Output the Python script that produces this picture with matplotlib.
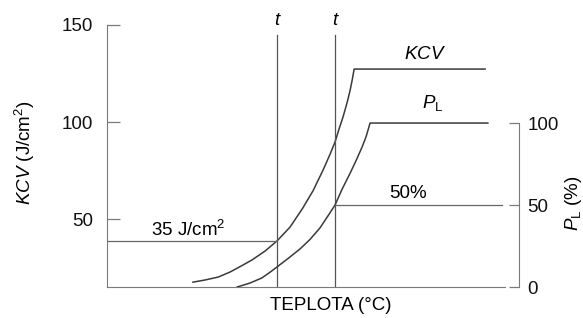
import matplotlib
matplotlib.use("Agg")
import matplotlib.pyplot as plt

plt.rcParams['font.family'] = ['Liberation Sans', 'DejaVu Sans']
plt.rcParams['mathtext.fontset'] = 'custom'
plt.rcParams['mathtext.rm'] = 'Liberation Sans'
plt.rcParams['mathtext.it'] = 'Liberation Sans:italic'

# curves (temperature in arbitrary units 0-100)
kcv_x = [21.6, 24.6, 27.9, 30.9, 33.7, 36.4, 39.7, 42.7, 46.0, 49.2, 51.8,
         54.3, 56.0, 57.3, 58.3, 59.3, 60.3, 61.1, 61.6, 62.1, 95.0]
kcv_y = [17.5, 18.6, 20.1, 22.7, 25.8, 28.9, 33.5, 38.7, 45.9, 55.7, 64.7,
         75.3, 83.2, 89.7, 96.4, 102.6, 109.8, 116.5, 121.6, 127.3, 127.3]

pl_x = [32.7, 35.9, 38.9, 40.9, 42.7, 45.5, 48.5, 51.0, 53.5, 55.5, 57.3,
        59.0, 61.1, 62.6, 64.1, 65.1, 66.1, 95.7]
pl_y = [0.0, 2.4, 5.5, 8.9, 12.2, 17.4, 23.2, 29.0, 36.0, 43.3, 50.0,
        59.3, 69.5, 77.2, 85.4, 91.7, 100.0, 100.0]

t_lines = [42.7, 57.3]
kcv_limit = 38.5
pl_limit = 50

line_col = '#3a3a3a'
axis_col = '#7a7a7a'
fs = 13.5

fig = plt.figure(figsize=(5.83, 3.18), dpi=100)
ax = fig.add_axes([107/583, 31/318, 398/583, 262/318])
ax.set_xlim(0, 100)
ax.set_ylim(15, 150)

ax2 = ax.twinx()
ax2.set_ylim(0, 159.8)

# curves
ax.plot(kcv_x, kcv_y, color=line_col, lw=1.1)
ax2.plot(pl_x, pl_y, color=line_col, lw=1.1)

# vertical t lines
for xv in t_lines:
    ax.plot([xv, xv], [15, 144.8], color='#555555', lw=0.9)
    ax.text(xv, 152.5, 't', fontsize=fs, style='italic', ha='center', va='center')

# 35 J/cm2 and 50 % guide lines
ax.plot([0, t_lines[0]], [kcv_limit, kcv_limit], color='#666666', lw=0.9)
ax2.plot([t_lines[1], 99.2], [pl_limit, pl_limit], color='#666666', lw=0.9)

# spines and ticks
for a in (ax, ax2):
    for s in a.spines.values():
        s.set_visible(False)
ax.spines['left'].set_visible(True)
ax.spines['left'].set_bounds(15, 150)
ax.spines['bottom'].set_visible(True)
ax.spines['left'].set_color(axis_col)
ax.spines['bottom'].set_color(axis_col)
ax.set_xticks([])
ax.set_yticks([50, 100, 150])
ax.tick_params(axis='y', direction='in', length=9.4, width=0.9, color=axis_col,
               pad=10, labelsize=fs, labelcolor='#111111')

ax2.spines['right'].set_visible(True)
ax2.spines['right'].set_position(('axes', 1.035))
ax2.spines['right'].set_bounds(0, 100)
ax2.spines['right'].set_color(axis_col)
ax2.set_yticks([0, 50, 100])
ax2.tick_params(axis='y', direction='in', length=7.5, width=0.9, color=axis_col,
                pad=6, labelsize=fs, labelcolor='#111111')

# annotations
ax.text(79.9, 134.8, r'$\mathit{KCV}$', fontsize=fs, ha='center', va='center')
ax.text(81.9, 109.8, r'$\mathit{P}_{\mathrm{L}}$', fontsize=fs, ha='center', va='center')
ax.text(75.6, 63.4, '50%', fontsize=fs, ha='center', va='center')
ax.text(20.4, 44.3, '35 J/cm$^2$', fontsize=fs, ha='center', va='center')

fig.text(331/583, 1 - 305/318, 'TEPLOTA (°C)', fontsize=fs, ha='center', va='center')
fig.text(25/583, 1 - 153/318, r'$\mathit{KCV}$ (J/cm$^2$)', fontsize=fs,
         rotation=90, ha='center', va='center')
fig.text(574/583, 1 - 203/318, r'$\mathit{P}_{\mathrm{L}}$ (%)', fontsize=fs,
         rotation=90, ha='center', va='center')

fig.savefig('out.png', dpi=100)
